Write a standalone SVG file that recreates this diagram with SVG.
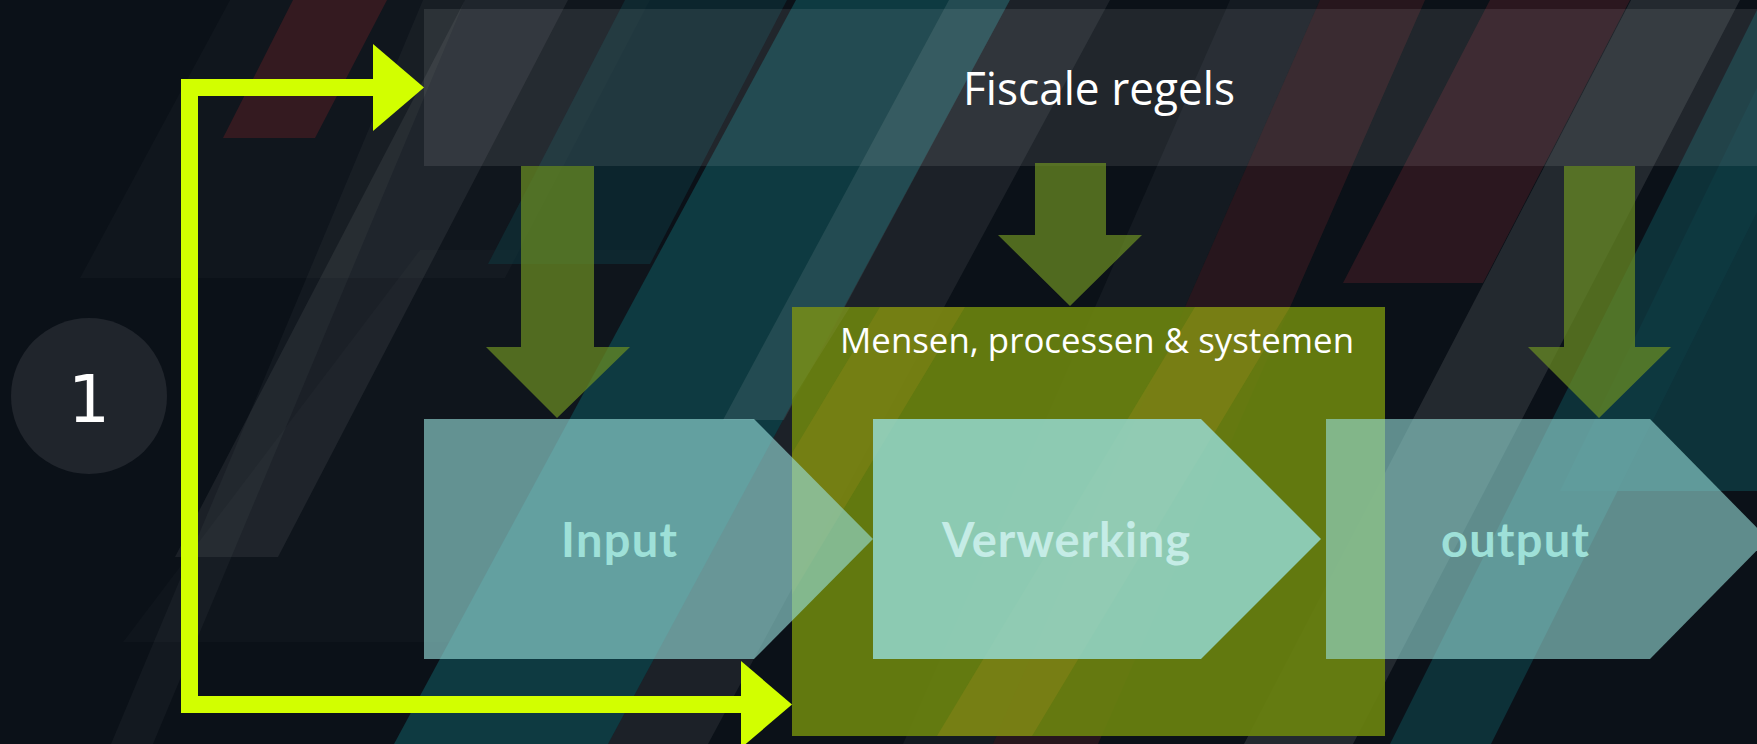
<svg xmlns="http://www.w3.org/2000/svg" width="1757" height="744" viewBox="0 0 1757 744">
<defs>
<style>
.bg{fill:#0b1118}
.gray{fill:#ffffff}
.teal{fill:#0e3a41}
.red{fill:#371a21}
.orange{fill:#9a8a1c}
.down{fill:#6b8e23;opacity:0.72}
.chev{fill:#97dfdb}
.lbl{font-family:"Open Sans","Noto Sans",sans-serif;fill:#ffffff;font-weight:400}
.step{font-family:Lato,"Open Sans",sans-serif;font-weight:700;text-anchor:middle}
</style>
<clipPath id="boxclip"><rect x="792" y="307" width="593" height="429"/></clipPath>
<marker id="head" markerUnits="userSpaceOnUse" markerWidth="52" markerHeight="88" refX="0" refY="43.5" orient="auto-start-reverse" viewBox="0 0 52 88">
<path d="M0,0 L51,43.5 L0,87 Z" fill="#d2ff00"/>
</marker>
</defs>
<g id="background">
<rect class="bg" x="0" y="0" width="1757" height="744"/>
<polygon class="gray" opacity="0.025" points="230,0 650,0 505,278 80,278"/>
<polygon class="gray" opacity="0.02" points="420,250 720,250 465,642 123,642"/>
<polygon class="red" opacity="0.95" points="293,0 387,0 315,138 223,138"/>
<polygon class="gray" opacity="0.035" points="423,0 465,0 153,744 111,744"/>
<polygon class="gray" opacity="0.065" points="465,0 568,0 278,557 175,557"/>
<polygon class="teal" opacity="0.5" points="625,0 787,0 650,264 488,264"/>
<polygon class="teal" points="796,0 1010,0 608,744 394,744"/>
<polygon class="gray" opacity="0.09" points="949,0 1010,0 784,420 723,420"/>
<polygon class="gray" opacity="0.07" points="1010,0 1110,0 708,744 608,744"/>
<polygon class="red" opacity="0.65" points="1320,0 1425,0 1098,744 993,744"/>
<polygon class="gray" opacity="0.04" points="1230,0 1320,0 993,744 903,744"/>
<polygon class="red" opacity="0.75" points="1490,0 1630,0 1483,283 1343,283"/>
<polygon class="gray" opacity="0.1" points="1631,0 1740,0 1353,744 1244,744"/>
<polygon class="teal" opacity="0.85" points="1800,0 2100,0 1757,491 1560,491"/>
<polygon class="teal" opacity="0.8" points="1762,0 1863,0 1491,744 1390,744"/>
</g>
<g id="fiscale-regels">
<rect x="424" y="9" width="1333" height="157" fill="#ffffff" opacity="0.09"/>
<text class="lbl" x="1099" y="105" font-size="45" text-anchor="middle" textLength="272" lengthAdjust="spacingAndGlyphs">Fiscale regels</text>
</g>
<g id="arrow-input">
<polygon class="down" points="521,166 594,166 594,347 630,347 557,418 486,347 521,347"/>
</g>
<g id="arrow-verwerking">
<polygon class="down" points="1035,163 1106,163 1106,235 1142,235 1070,306 998,235 1035,235"/>
</g>
<g id="arrow-output">
<polygon class="down" points="1564,166 1635,166 1635,347 1671,347 1599,418 1528,347 1564,347"/>
</g>
<g id="mensen-processen-systemen">
<rect x="792" y="307" width="593" height="429" fill="#6a820f" opacity="0.92"/>
<g clip-path="url(#boxclip)">
<polygon class="orange" opacity="0.35" points="1195,307 1290,307 1032,736 937,736"/>
<polygon class="orange" opacity="0.3" points="880,307 965,307 707,736 622,736"/>
<polygon class="gray" opacity="0.05" points="792,307 850,307 792,400"/>
</g>
<text class="lbl" x="1097" y="353" font-size="34" text-anchor="middle" textLength="514" lengthAdjust="spacingAndGlyphs">Mensen, processen &amp; systemen</text>
</g>
<g id="input">
<polygon class="chev" opacity="0.62" points="424,419 754,419 873,539 754,659 424,659"/>
<text class="step" x="619" y="557" font-size="47" fill="#9ee0d8" textLength="116">Input</text>
</g>
<g id="verwerking">
<polygon class="chev" opacity="0.8" points="873,419 1201,419 1321,539 1201,659 873,659"/>
<text class="step" x="1066" y="557" font-size="47" fill="#c5ece6" textLength="248">Verwerking</text>
</g>
<g id="output">
<polygon class="chev" opacity="0.6" points="1326,419 1650,419 1768,539 1650,659 1326,659"/>
<text class="step" x="1515" y="557" font-size="47" fill="#9ee0d8" textLength="148">output</text>
</g>
<g id="step-1">
<circle cx="89" cy="396" r="78" fill="#20252c"/>
<text x="89" y="422" font-family="'DejaVu Sans',sans-serif" font-size="66" fill="#ffffff" text-anchor="middle">1</text>
</g>
<g id="connectors">
<path d="M741,704.5 H189.5 V87.5 H373" fill="none" stroke="#d2ff00" stroke-width="17" stroke-linejoin="miter" marker-start="url(#head)" marker-end="url(#head)"/>
</g>
</svg>
